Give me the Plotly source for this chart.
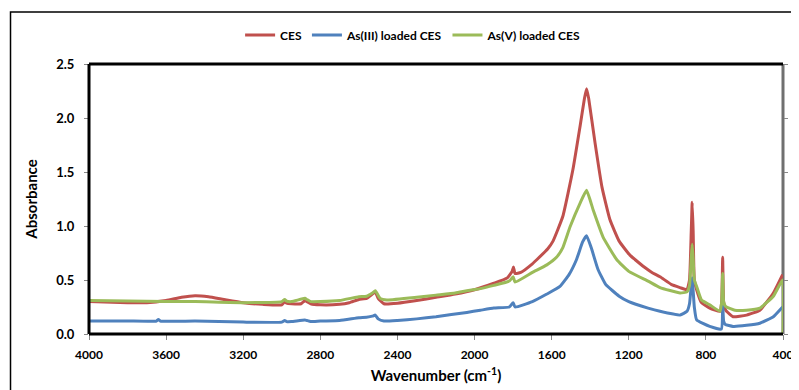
import plotly.graph_objects as go

# ---- data ----
ces_x = [4000, 3800, 3700, 3600, 3520, 3450, 3380, 3300, 3200, 3100, 3000, 2985, 2975, 2950, 2900,
         2880, 2870, 2850, 2800, 2700, 2650, 2600, 2560, 2530, 2515, 2500, 2470, 2400, 2300, 2200,
         2100, 2000, 1900, 1830, 1805, 1798, 1790, 1760, 1700, 1676, 1620, 1593, 1542, 1490, 1453,
         1430, 1419, 1408, 1375, 1339, 1298, 1250, 1194, 1168, 1120, 1080, 1038, 980, 934, 898, 885, 876,
         871, 866, 860, 848, 823, 780, 727, 718, 713, 708, 700, 693, 659, 589, 520, 450, 402]
ces_y = [0.30, 0.29, 0.29, 0.31, 0.34, 0.355, 0.345, 0.32, 0.29, 0.275, 0.27, 0.30, 0.285, 0.28, 0.28,
         0.31, 0.30, 0.28, 0.27, 0.275, 0.29, 0.32, 0.33, 0.37, 0.39, 0.33, 0.28, 0.285, 0.31, 0.34,
         0.37, 0.41, 0.47, 0.52, 0.58, 0.62, 0.56, 0.57, 0.65, 0.69, 0.79, 0.86, 1.09, 1.52, 1.92,
         2.18, 2.27, 2.18, 1.77, 1.36, 1.06, 0.86, 0.73, 0.69, 0.62, 0.57, 0.53, 0.46, 0.43, 0.41, 0.50, 0.95,
         1.22, 0.95, 0.50, 0.41, 0.29, 0.24, 0.21, 0.30, 0.71, 0.30, 0.23, 0.21, 0.16, 0.175, 0.22, 0.38, 0.55]

as3_x = [4000, 3800, 3650, 3640, 3630, 3450, 3200, 3000, 2985, 2975, 2950, 2880, 2870, 2850, 2800,
         2700, 2600, 2560, 2530, 2515, 2500, 2470, 2400, 2300, 2200, 2040, 1970, 1900, 1820, 1800,
         1790, 1700, 1625, 1557, 1510, 1471, 1440, 1419, 1395, 1360, 1320, 1250, 1200, 1100, 1038,
         934, 898, 885, 876, 871, 866, 860, 848, 780, 720, 713, 708, 700, 659, 589, 520, 450, 402]
as3_y = [0.12, 0.12, 0.12, 0.135, 0.12, 0.12, 0.11, 0.11, 0.125, 0.115, 0.115, 0.13, 0.125, 0.115, 0.12,
         0.125, 0.15, 0.155, 0.165, 0.175, 0.14, 0.12, 0.125, 0.14, 0.16, 0.20, 0.22, 0.24, 0.25, 0.29,
         0.25, 0.30, 0.37, 0.44, 0.55, 0.69, 0.85, 0.91, 0.80, 0.60, 0.46, 0.35, 0.30, 0.24, 0.21,
         0.175, 0.21, 0.28, 0.45, 0.52, 0.40, 0.25, 0.13, 0.07, 0.045, 0.28, 0.12, 0.09, 0.07, 0.08, 0.10, 0.16, 0.25]

as5_x = [4000, 3800, 3600, 3450, 3200, 3000, 2985, 2975, 2950, 2880, 2870, 2850, 2800, 2700, 2600,
         2560, 2530, 2515, 2490, 2455, 2300, 2200, 2100, 2040, 1970, 1900, 1820, 1800, 1790, 1700,
         1625, 1575, 1542, 1505, 1453, 1419, 1385, 1334, 1263, 1200, 1100, 1038, 934, 898, 885, 876,
         871, 866, 860, 848, 823, 780, 727, 718, 713, 708, 700, 693, 650, 589, 520, 450, 402, 400]
as5_y = [0.31, 0.305, 0.30, 0.30, 0.29, 0.30, 0.32, 0.305, 0.30, 0.33, 0.32, 0.30, 0.30, 0.31, 0.345,
         0.35, 0.38, 0.40, 0.33, 0.315, 0.34, 0.36, 0.38, 0.40, 0.42, 0.45, 0.49, 0.53, 0.48, 0.57,
         0.64, 0.71, 0.80, 0.99, 1.21, 1.33, 1.15, 0.90, 0.69, 0.58, 0.49, 0.43, 0.38, 0.39, 0.45, 0.70,
         0.83, 0.70, 0.50, 0.44, 0.315, 0.27, 0.21, 0.30, 0.56, 0.30, 0.26, 0.25, 0.22, 0.22, 0.24, 0.35, 0.50, 0.0]

series_names = ["CES", "As(III) loaded CES", "As(V) loaded CES"]
series_colors = ["#C0504D", "#4F81BD", "#9BBB59"]

x_ticks = [4000, 3600, 3200, 2800, 2400, 2000, 1600, 1200, 800, 400]
y_ticks = [0.0, 0.5, 1.0, 1.5, 2.0, 2.5]

FONT = "Lato"

fig = go.Figure()
for name, xs, ys, col in zip(series_names, [ces_x, as3_x, as5_x], [ces_y, as3_y, as5_y], series_colors):
    fig.add_trace(go.Scatter(x=xs, y=ys, mode="lines", name=name,
                             line=dict(color=col, width=3, shape="spline", smoothing=0.4)))

# page body has an 8px margin, so the figure is sized to fill the rest of the window
fig.update_layout(
    width=791, height=382,
    margin=dict(l=81, r=16, t=56, b=56, autoexpand=False),
    paper_bgcolor="white", plot_bgcolor="white",
    font=dict(family=FONT, color="black"),
    legend=dict(orientation="h", x=0.467, xanchor="center", y=1.107, yanchor="middle",
                font=dict(family=FONT, size=12, weight="bold"), itemwidth=30,
                bgcolor="rgba(0,0,0,0)"),
    showlegend=True,
)

fig.update_xaxes(range=[4000, 400], tickvals=x_ticks, ticktext=[str(v) for v in x_ticks],
                 showgrid=False, zeroline=False, showline=False, automargin=False,
                 ticks="outside", ticklen=5, tickcolor="#888888", tickwidth=1,
                 ticklabelstandoff=5,
                 tickfont=dict(family=FONT, size=12, weight="bold"),
                 title=dict(text="Wavenumber (cm<sup>-1</sup>)", font=dict(family=FONT, size=15, weight="bold"),
                            standoff=9))
fig.update_yaxes(range=[0, 2.5], tickvals=y_ticks, ticktext=[f"{v:.1f}" for v in y_ticks],
                 showgrid=False, zeroline=False, showline=False, automargin=False,
                 ticks="outside", ticklen=4, tickcolor="#888888", mirror="ticks",
                 ticklabelstandoff=7,
                 tickfont=dict(family=FONT, size=13, weight="bold"),
                 title=dict(text="Absorbance", font=dict(family=FONT, size=15, weight="bold"), standoff=14))

# plot frame
fig.add_shape(type="line", xref="paper", yref="paper", x0=0, x1=1, y0=0, y1=0, line=dict(color="black", width=3))
fig.add_shape(type="line", xref="paper", yref="paper", x0=0, x1=1, y0=1, y1=1, line=dict(color="black", width=3))
fig.add_shape(type="line", xref="paper", yref="paper", x0=0, x1=0, y0=0, y1=1, line=dict(color="black", width=3))
fig.add_shape(type="line", xref="paper", yref="paper", x0=1, x1=1, y0=0, y1=1, line=dict(color="#707070", width=3), layer="below")
# outer chart border
fig.add_shape(type="rect", xref="paper", yref="paper", x0=-0.1131, x1=1.1, y0=-0.3, y1=1.1926,
              line=dict(color="black", width=1.5))

fig.write_html("out.html")
